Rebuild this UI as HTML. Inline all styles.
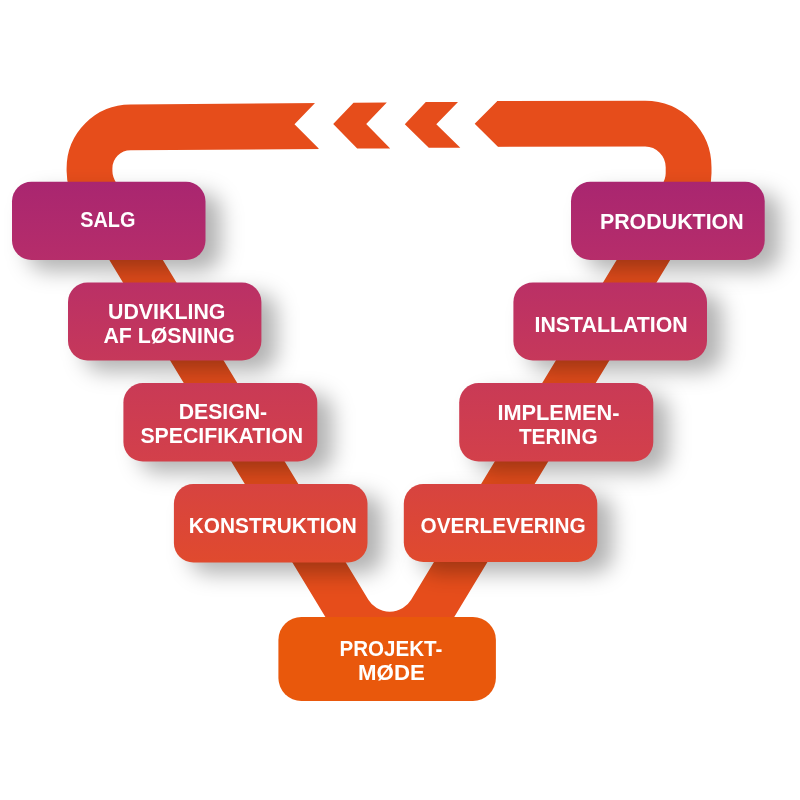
<!DOCTYPE html>
<html lang="da"><head><meta charset="utf-8"><title>V-model</title>
<style>
html,body{margin:0;padding:0;background:#fff;}
#stage{position:relative;width:800px;height:800px;overflow:hidden;background:#fff;}
#stage svg{position:absolute;left:0;top:0;}
#lbl{will-change:transform;}
#lbl text{font-family:"Liberation Sans",sans-serif;font-weight:bold;font-size:21.3px;fill:#fff;}
</style></head><body>
<div id="stage">
<svg width="800" height="800" viewBox="0 0 800 800"><defs><filter id="sh" x="-30%" y="-60%" width="160%" height="220%"><feGaussianBlur stdDeviation="10.5"/></filter>
<linearGradient id="g_salg" x1="0" y1="0" x2="0" y2="1"><stop offset="0" stop-color="#A92670"/><stop offset="1" stop-color="#B62D6A"/></linearGradient>
<linearGradient id="g_udv" x1="0" y1="0" x2="0" y2="1"><stop offset="0" stop-color="#BA3066"/><stop offset="1" stop-color="#C6385A"/></linearGradient>
<linearGradient id="g_des" x1="0" y1="0" x2="0" y2="1"><stop offset="0" stop-color="#C93A56"/><stop offset="1" stop-color="#D3404A"/></linearGradient>
<linearGradient id="g_kon" x1="0" y1="0" x2="0" y2="1"><stop offset="0" stop-color="#D74340"/><stop offset="1" stop-color="#E04A2E"/></linearGradient>
<linearGradient id="g_pro" x1="0" y1="0" x2="0" y2="1"><stop offset="0" stop-color="#A92670"/><stop offset="1" stop-color="#B62D6A"/></linearGradient>
<linearGradient id="g_ins" x1="0" y1="0" x2="0" y2="1"><stop offset="0" stop-color="#BA3066"/><stop offset="1" stop-color="#C6385A"/></linearGradient>
<linearGradient id="g_imp" x1="0" y1="0" x2="0" y2="1"><stop offset="0" stop-color="#C93A56"/><stop offset="1" stop-color="#D3404A"/></linearGradient>
<linearGradient id="g_ove" x1="0" y1="0" x2="0" y2="1"><stop offset="0" stop-color="#D74340"/><stop offset="1" stop-color="#E04A2E"/></linearGradient>
</defs>

<path d="M 322,126.0 L 130.5,127.4 A 41.0 41.0 0 0 0 89.5,168.4 L 89.5,170.98 Q 89.5,182.98 96.76,194.98 L 348.77,611.52 A 47.90 47.90 0 0 0 430.73,611.52 L 681.34,197.29 Q 688.6,185.29 688.6,173.29 L 688.6,167.2 A 43.5 43.5 0 0 0 645.1,123.7 L 472,124.0" fill="none" stroke="#E64D1B" stroke-width="45.8" stroke-linejoin="round"/>
<polygon points="313,100 314.8,103.2 294.5,124.3 318.7,148.6 317,152 330,152 330,100" fill="#fff"/>
<polygon points="474.7,123.8 496.9,101.4 500,95 470,95 470,155 500,155 497.9,146.7" fill="#fff"/>
<polygon points="353.5,102.8 386.8,102.6 366.2,124.1 390.2,148.4 357.2,148.5 333.2,124.1" fill="#E64D1B"/>
<polygon points="425.8,102.1 458,102 436.3,124.2 460.3,147.8 428.8,147.8 404.8,124.2" fill="#E64D1B"/>
<rect x="27.5" y="192.8" width="193.5" height="78.2" rx="19.5" fill="#000" fill-opacity="0.3" filter="url(#sh)"/>
<rect x="12.0" y="181.8" width="193.5" height="78.2" rx="19.5" fill="url(#g_salg)"/>
<rect x="83.5" y="293.5" width="193.4" height="77.9" rx="19.5" fill="#000" fill-opacity="0.3" filter="url(#sh)"/>
<rect x="68.0" y="282.5" width="193.4" height="77.9" rx="19.5" fill="url(#g_udv)"/>
<rect x="138.9" y="394.0" width="193.9" height="78.6" rx="19.5" fill="#000" fill-opacity="0.3" filter="url(#sh)"/>
<rect x="123.4" y="383.0" width="193.9" height="78.6" rx="19.5" fill="url(#g_des)"/>
<rect x="189.4" y="495.1" width="193.6" height="78.4" rx="19.5" fill="#000" fill-opacity="0.3" filter="url(#sh)"/>
<rect x="173.9" y="484.1" width="193.6" height="78.4" rx="19.5" fill="url(#g_kon)"/>
<rect x="586.5" y="192.8" width="193.7" height="78.2" rx="19.5" fill="#000" fill-opacity="0.3" filter="url(#sh)"/>
<rect x="571.0" y="181.8" width="193.7" height="78.2" rx="19.5" fill="url(#g_pro)"/>
<rect x="528.9" y="293.4" width="193.6" height="78.1" rx="19.5" fill="#000" fill-opacity="0.3" filter="url(#sh)"/>
<rect x="513.4" y="282.4" width="193.6" height="78.1" rx="19.5" fill="url(#g_ins)"/>
<rect x="474.7" y="394.1" width="194.1" height="78.5" rx="19.5" fill="#000" fill-opacity="0.3" filter="url(#sh)"/>
<rect x="459.2" y="383.1" width="194.1" height="78.5" rx="19.5" fill="url(#g_imp)"/>
<rect x="419.3" y="495.1" width="193.5" height="78.0" rx="19.5" fill="#000" fill-opacity="0.3" filter="url(#sh)"/>
<rect x="403.8" y="484.1" width="193.5" height="78.0" rx="19.5" fill="url(#g_ove)"/>
<rect x="278.4" y="616.9" width="217.5" height="84" rx="23" fill="#E9580C"/>
</svg>

<svg id="lbl" width="800" height="800" viewBox="0 0 800 800">
<text x="80.20" y="226.90" textLength="55.20" lengthAdjust="spacingAndGlyphs">SALG</text>
<text x="108.00" y="318.60" textLength="117.40" lengthAdjust="spacingAndGlyphs">UDVIKLING</text>
<text x="103.40" y="342.60" textLength="131.50" lengthAdjust="spacingAndGlyphs">AF LØSNING</text>
<text x="178.75" y="418.75" textLength="88.40" lengthAdjust="spacingAndGlyphs">DESIGN-</text>
<text x="140.45" y="443.00" textLength="162.65" lengthAdjust="spacingAndGlyphs">SPECIFIKATION</text>
<text x="188.80" y="533.00" textLength="167.90" lengthAdjust="spacingAndGlyphs">KONSTRUKTION</text>
<text x="339.45" y="656.00" textLength="102.90" lengthAdjust="spacingAndGlyphs">PROJEKT-</text>
<text x="358.10" y="679.60" textLength="66.70" lengthAdjust="spacingAndGlyphs">MØDE</text>
<text x="420.50" y="533.00" textLength="165.30" lengthAdjust="spacingAndGlyphs">OVERLEVERING</text>
<text x="497.40" y="419.90" textLength="122.10" lengthAdjust="spacingAndGlyphs">IMPLEMEN-</text>
<text x="518.90" y="444.30" textLength="78.70" lengthAdjust="spacingAndGlyphs">TERING</text>
<text x="534.50" y="332.00" textLength="153.20" lengthAdjust="spacingAndGlyphs">INSTALLATION</text>
<text x="599.90" y="229.00" textLength="143.80" lengthAdjust="spacingAndGlyphs">PRODUKTION</text>
</svg>
</div>
</body></html>
